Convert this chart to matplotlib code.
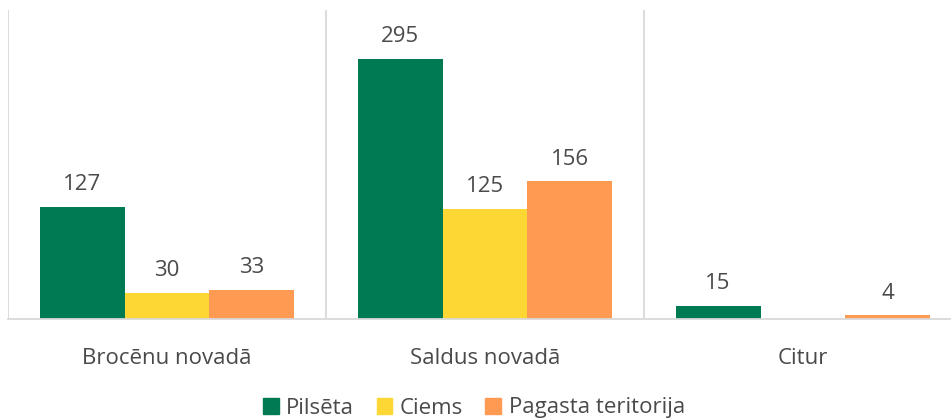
"""Grouped bar chart: Pilsēta / Ciems / Pagasta teritorija by region."""

import numpy as np
from matplotlib import pyplot as plt
from matplotlib.patches import Patch

categories = ["Brocēnu novadā", "Saldus novadā", "Citur"]
series_names = ["Pilsēta", "Ciems", "Pagasta teritorija"]
pilseta = [127, 295, 15]
ciems = [30, 125, None]
pagasta = [33, 156, 4]

COLORS = ["#007A52", "#FDD835", "#FF9A52"]
TEXT = "#4A4A4A"
GRID = "#D9D9D9"

plt.rcParams["font.family"] = ["Open Sans", "DejaVu Sans"]

fig = plt.figure(figsize=(9.51, 4.2), dpi=100)
W, H = 951, 420
left, right, top, bottom = 8, 962, 10, 319
ax = fig.add_axes([left / W, 1 - bottom / H, (right - left) / W, (bottom - top) / H])

x = np.arange(len(categories))
width = 0.267
for i, (vals, color) in enumerate(zip([pilseta, ciems, pagasta], COLORS)):
    offset = (i - 1) * width
    for xi, v in zip(x, vals):
        if v is None:
            continue
        ax.bar(xi + offset, v, width=width, color=color, zorder=2)
        ax.text(xi + offset, v + 13, str(v), ha="center", va="bottom",
                fontsize=16, color=TEXT)

ax.set_xlim(-0.5, len(categories) - 0.5)
ax.set_ylim(0, 350)
ax.set_yticks([])
ax.set_xticks(x)
ax.set_xticklabels(categories, fontsize=16, color=TEXT)
ax.tick_params(axis="x", length=0, pad=21)
for sep in np.arange(len(categories) + 1) - 0.5:
    ax.axvline(sep, color=GRID, linewidth=1.3, zorder=1)
for side in ["top", "right", "left"]:
    ax.spines[side].set_visible(False)
ax.spines["bottom"].set_color(GRID)
ax.spines["bottom"].set_linewidth(1.3)

handles = [Patch(color=c, label=n) for c, n in zip(COLORS, series_names)]
fig.legend(handles=handles, loc="center", bbox_to_anchor=(474 / W, 1 - 408 / H),
           ncol=3, frameon=False, fontsize=16, handlelength=0.7, handleheight=0.7,
           handletextpad=0.35, columnspacing=1.0, labelcolor=TEXT,
           borderaxespad=0, borderpad=0)

fig.savefig("out.png", dpi=100)
